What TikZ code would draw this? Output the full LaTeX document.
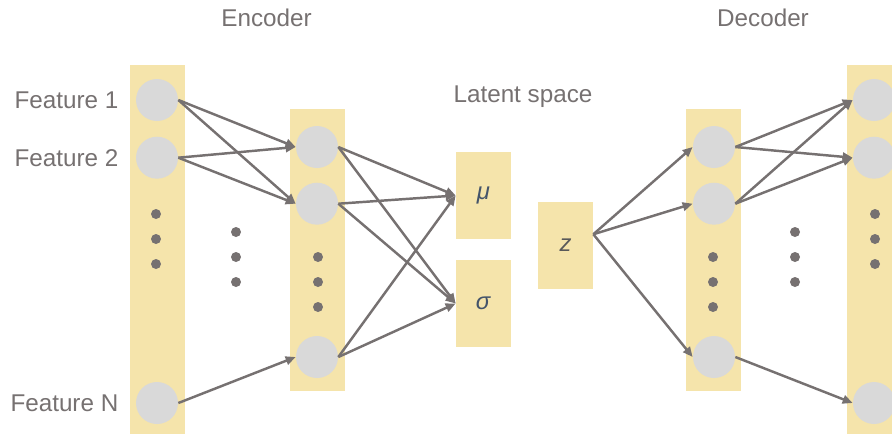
\documentclass[tikz,border=0pt]{standalone}
\usepackage{fontspec}
\setmainfont{Liberation Sans}
\usepackage{xcolor}
\usepackage{tikz}
\usetikzlibrary{positioning, arrows.meta}

\definecolor{layeryellow}{HTML}{F5E4AB}
\definecolor{unitgray}{HTML}{D9D9D9}
\definecolor{linegray}{HTML}{767171}
\definecolor{greekblue}{HTML}{44546A}
\definecolor{zgray}{HTML}{595959}

\tikzset{
	layerbox/.style = {fill = layeryellow, minimum width = 1.1cm, inner sep = 0, font = \fontsize{13.6}{16}\selectfont},
	unit/.style = {circle, fill = unitgray, minimum size = 0.84cm, inner sep = 0},
	vdot/.style = {circle, fill = linegray, minimum size = 0.2cm, inner sep = 0},
	textlabel/.style = {text = linegray, inner sep = 0, font = \fontsize{13.8}{16}\selectfont},
	line/.style = {draw = linegray, line width = 1.4pt, -{Triangle[length = 0.2cm, width = 0.17cm]}}
}

\begin{document}
\begin{tikzpicture}[x = 0.02cm, y = -0.02cm, node distance = 1cm, auto]
			\useasboundingbox (0, 0) rectangle (892, 434);
			\clip (0, 0) rectangle (892, 434);
			
			% layers
			\node [layerbox, minimum height = 7.38cm] (incol) at (157.5, 249.5) {};
			\node [layerbox, minimum height = 5.64cm] (enccol) at (317.5, 250) {};
			\node [layerbox, minimum height = 1.74cm, text = greekblue] (mu) at (483.5, 195.5) {\textit{μ}};
			\node [layerbox, minimum height = 1.74cm, text = greekblue] (sigma) at (483.5, 303.5) {\textit{σ}};
			\node [layerbox, minimum height = 1.74cm, text = zgray] (z) at (565.5, 245.5) {\textit{z}};
			\node [layerbox, minimum height = 5.64cm] (deccol) at (713.5, 250) {};
			\node [layerbox, minimum height = 7.38cm] (outcol) at (874.5, 249.5) {};
			
			% units
			\node [unit] (in1) at (157, 100) {};
			\node [unit, below = 0.3cm of in1] (in2) {};
			\node [unit] (inN) at (157, 403) {};
			\node [unit] (eh1) at (317, 147) {};
			\node [unit, below = 0.28cm of eh1] (eh2) {};
			\node [unit] (eh3) at (317, 357) {};
			\node [unit] (dh1) at (714, 147) {};
			\node [unit, below = 0.28cm of dh1] (dh2) {};
			\node [unit] (dh3) at (714, 357) {};
			\node [unit] (out1) at (874, 100) {};
			\node [unit, below = 0.3cm of out1] (out2) {};
			\node [unit] (outN) at (874, 403) {};
			
			\foreach \x/\y/\n in {156/214/a, 236/232/b, 318/257/c, 713/257/d, 795/232/e, 875/214/f}
				\foreach \k in {0, 1, 2}
					\node [vdot] (dot\n\k) at (\x, \y + 25*\k) {};
			
			% texts
			\node [textlabel, left = 0.34cm of in1] (feat1) {Feature 1};
			\node [textlabel, left = 0.34cm of in2] (feat2) {Feature 2};
			\node [textlabel, left = 0.34cm of inN] (featN) {Feature N};
			\node [textlabel, anchor = base] (enc) at (266.5, 26) {Encoder};
			\node [textlabel, anchor = base] (dec) at (763, 26) {Decoder};
			\node [textlabel, anchor = base] (latent) at (523, 102) {Latent space};
			
			% connections
			\foreach \a/\b in {in1/eh1, in1/eh2, in2/eh1, in2/eh2, inN/eh3, dh1/out1, dh1/out2, dh2/out1, dh2/out2, dh3/outN}
				\path [line] (\a.east) -- (\b.west);
			\foreach \a in {eh1, eh2, eh3}
				\foreach \b in {mu, sigma}
					\path [line] (\a.east) -- (\b.west);
			\foreach \b in {dh1, dh2, dh3}
				\path [line] (z.22) -- (\b.west);
		\end{tikzpicture}
\end{document}
